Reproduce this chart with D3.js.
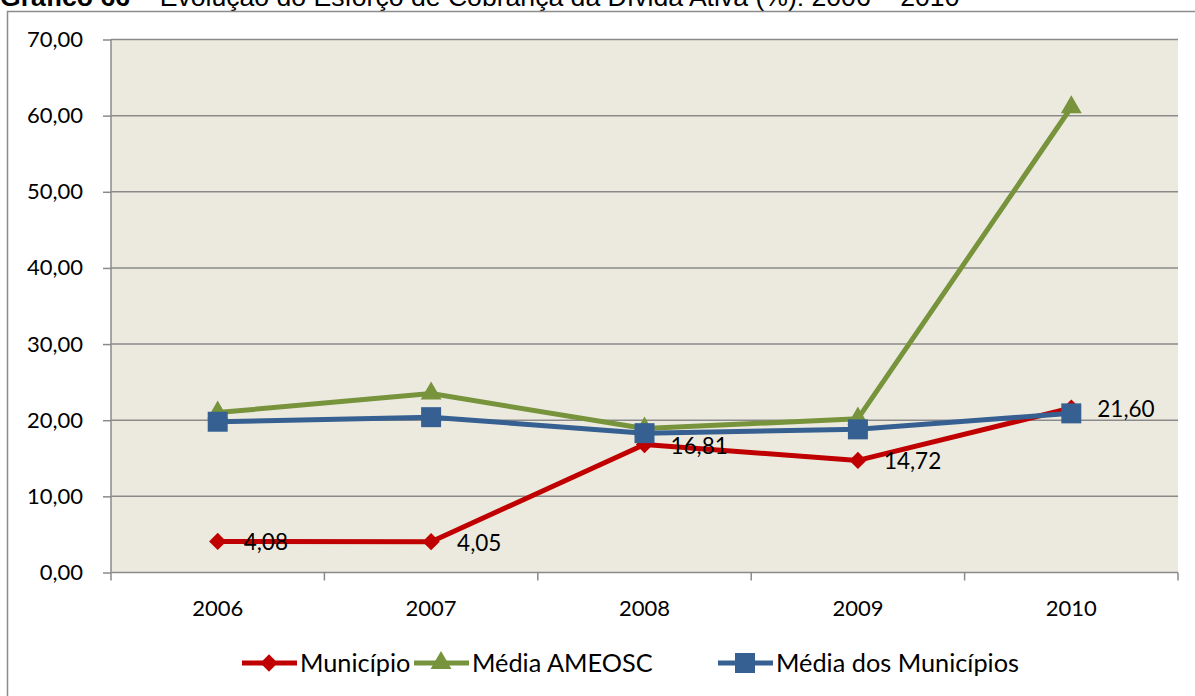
<!DOCTYPE html>
<html lang="pt">
<head>
<meta charset="UTF-8">
<title>Gráfico 66</title>
<script src="https://cdn.jsdelivr.net/npm/d3@7"></script>
<style>
  body { margin: 0; background: #fff; }
  svg { display: block; }
  text { font-family: Lato, "Open Sans", sans-serif; fill: #000; }
</style>
</head>
<body>
<svg id="chart" width="1195" height="696"></svg>
<script>
// data
var years = ["2006", "2007", "2008", "2009", "2010"];
var municipio = [4.08, 4.05, 16.81, 14.72, 21.60];
var mediaAmeosc = [21.0, 23.5, 18.9, 20.2, 61.1];
var mediaMunicipios = [19.8, 20.4, 18.3, 18.8, 20.9];
var yTicks = [0, 10, 20, 30, 40, 50, 60, 70];

var series = [
    { name: "Município", values: municipio, color: "#c00000", symbol: d3.symbolDiamond2, size: 190 },
    { name: "Média AMEOSC", values: mediaAmeosc, color: "#77933c", symbol: d3.symbolTriangle, size: 190 },
    { name: "Média dos Municípios", values: mediaMunicipios, color: "#376092", symbol: d3.symbolSquare, size: 400 }
];

var margin = { top: 39.5, right: 17, bottom: 123.5, left: 111 };
var width = 1195, height = 696;
var svg = d3.select("#chart");

function fmt(v) { return v.toFixed(2).replace(".", ","); }

// title, cut at the top edge as in the source
var title = svg.append("text")
    .attr("x", 0).attr("y", 6)
    .style("font-family", "'Liberation Sans', Arial, sans-serif")
    .style("font-size", "26.6px");
title.append("tspan").style("font-weight", "bold").text("Gráfico 66");
title.append("tspan").text(" – Evolução do Esforço de Cobrança da Dívida Ativa (%): 2006 – 2010");

// outer frame
svg.append("rect")
    .attr("x", 7.5).attr("y", 11.5)
    .attr("width", 1200).attr("height", 700)
    .attr("fill", "#fff")
    .attr("stroke", "#8c8c8c")
    .attr("stroke-width", 1.5);

var x = d3.scaleBand()
    .domain(years)
    .range([margin.left, width - margin.right]);

var y = d3.scaleLinear()
    .domain([0, 70])
    .range([height - margin.bottom, margin.top]);

// plot background
svg.append("rect")
    .attr("x", margin.left).attr("y", margin.top)
    .attr("width", width - margin.right - margin.left)
    .attr("height", y(0) - margin.top)
    .attr("fill", "#eceade");

// gridlines
svg.append("g")
    .selectAll("line")
    .data(yTicks.slice(1))
    .enter()
    .append("line")
    .attr("x1", margin.left).attr("x2", width - margin.right)
    .attr("y1", d => y(d)).attr("y2", d => y(d))
    .attr("stroke", "#8a8a8a")
    .attr("stroke-width", 1.5);

// y axis
var yAxis = d3.axisLeft(y)
    .tickValues(yTicks)
    .tickFormat(fmt)
    .tickSize(8)
    .tickPadding(20);
var gy = svg.append("g")
    .attr("transform", "translate(" + margin.left + ",0)")
    .call(yAxis);

// x axis, ticks between the categories
var xAxis = d3.axisBottom(x).tickSize(0).tickPadding(28);
var gx = svg.append("g")
    .attr("transform", "translate(0," + y(0) + ")")
    .call(xAxis);
var bounds = years.map(d => x(d)).concat([x.range()[1]]);
gx.selectAll(".sep")
    .data(bounds)
    .enter()
    .append("line")
    .attr("class", "sep")
    .attr("x1", d => d).attr("x2", d => d)
    .attr("y1", 0).attr("y2", 8);

[gx, gy].forEach(function (g) {
    g.selectAll("line").attr("stroke", "#8a8a8a").attr("stroke-width", 1.5);
    g.selectAll("text").style("font-size", "22px").style("font-family", "Lato, sans-serif").attr("fill", "#000");
});
gx.select("path.domain").attr("d", "M" + margin.left + ",0H" + (width - margin.right))
    .attr("stroke", "#8a8a8a").attr("stroke-width", 1.5);
gy.select("path.domain").attr("d", "M0," + y(0) + "V" + margin.top)
    .attr("stroke", "#8a8a8a").attr("stroke-width", 1.5);

var cx = d => x(d) + x.bandwidth() / 2;

var line = d3.line()
    .x((d, i) => cx(years[i]))
    .y(d => y(d));

series.forEach(function (s) {
    var g = svg.append("g");
    g.append("path")
        .attr("d", line(s.values))
        .attr("fill", "none")
        .attr("stroke", s.color)
        .attr("stroke-width", 5)
        .attr("stroke-linejoin", "round");
    g.selectAll("path.mk")
        .data(s.values)
        .enter()
        .append("path")
        .attr("class", "mk")
        .attr("d", d3.symbol().type(s.symbol).size(s.size))
        .attr("transform", (d, i) => "translate(" + cx(years[i]) + "," + y(d) + ")")
        .attr("fill", s.color);
});

// data labels for Município
svg.append("g")
    .selectAll("text")
    .data(municipio)
    .enter()
    .append("text")
    .attr("x", (d, i) => cx(years[i]) + 26)
    .attr("y", d => y(d) + 9)
    .style("font-size", "22.5px")
    .text(fmt);

// legend
var legendX = [242, 414, 718];
var legend = svg.append("g")
    .selectAll("g")
    .data(series)
    .enter()
    .append("g")
    .attr("transform", (d, i) => "translate(" + legendX[i] + ",663)");
legend.append("line")
    .attr("x1", 0).attr("x2", 55)
    .attr("stroke", d => d.color)
    .attr("stroke-width", 5);
legend.append("path")
    .attr("d", d => d3.symbol().type(d.symbol).size(d.size)())
    .attr("transform", "translate(27,0)")
    .attr("fill", d => d.color);
legend.append("text")
    .attr("x", 58)
    .attr("y", 9)
    .style("font-size", "25.3px")
    .text(d => d.name);
</script>
</body>
</html>
